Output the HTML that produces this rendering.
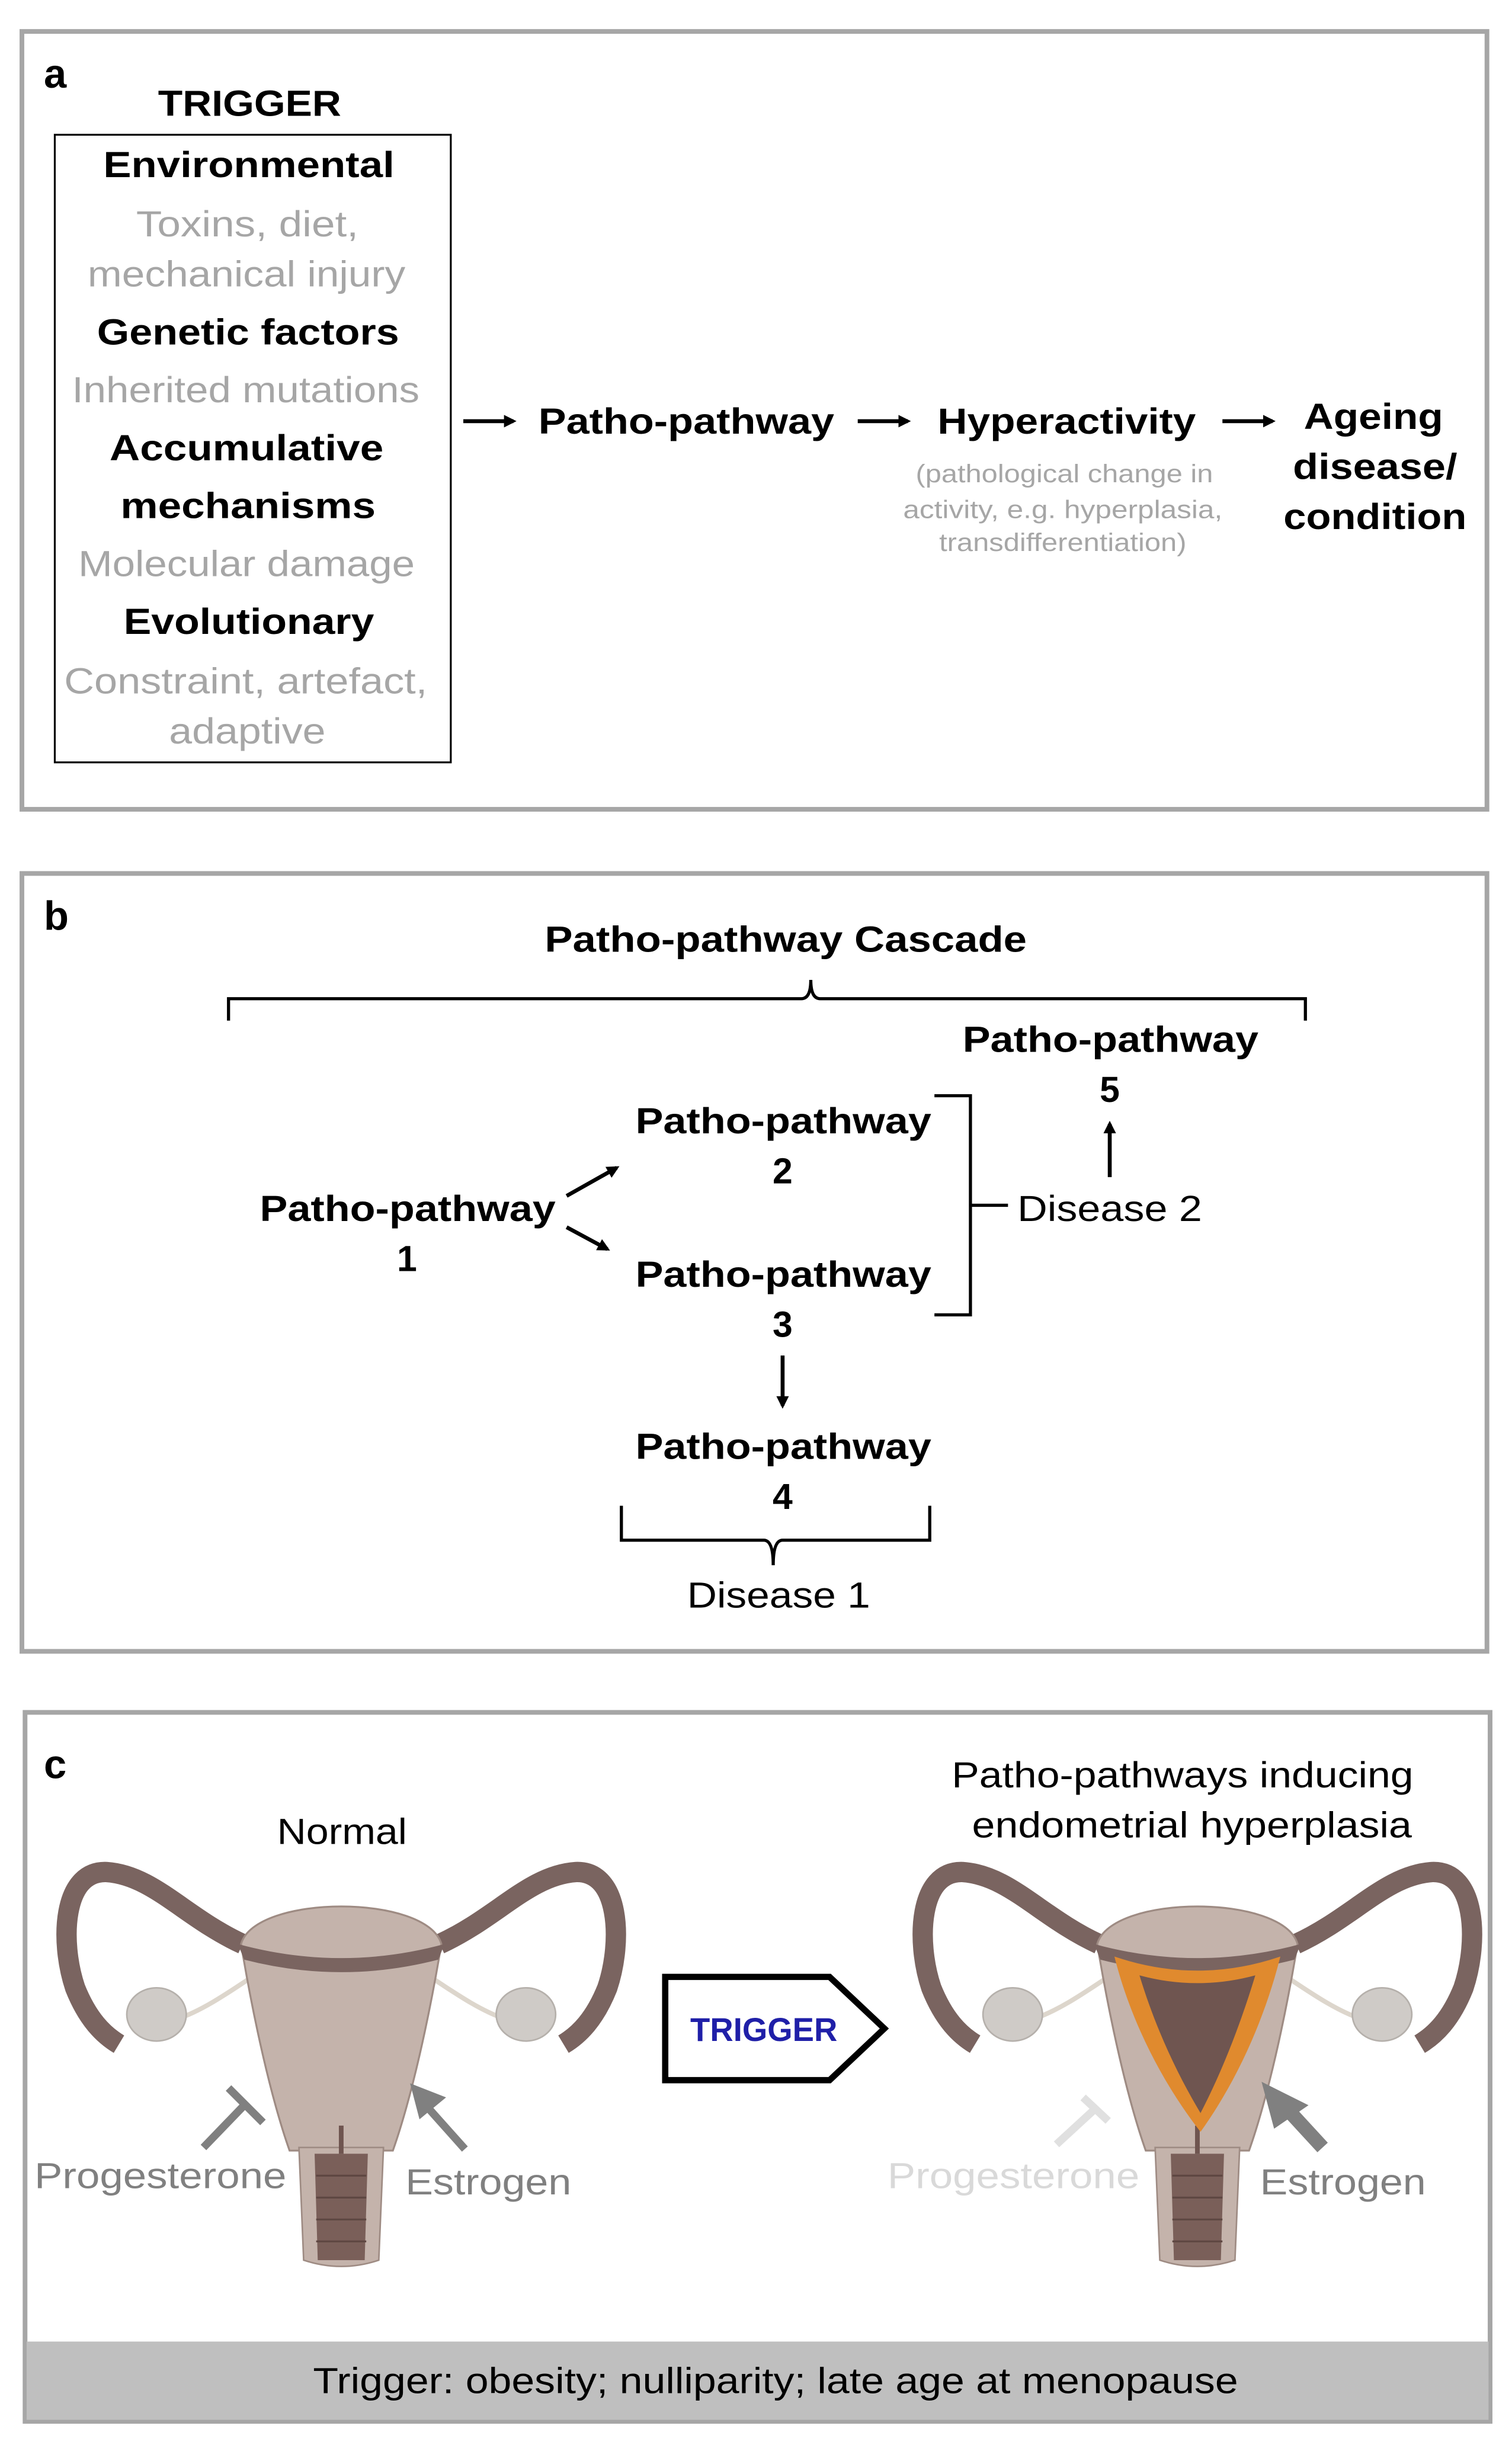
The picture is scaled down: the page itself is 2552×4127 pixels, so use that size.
<!DOCTYPE html>
<html><head><meta charset="utf-8"><style>
html,body{margin:0;padding:0;background:#fff;}
svg{display:block;}
text{font-family:"Liberation Sans",Arial,sans-serif;}
</style></head><body>
<svg width="2552" height="4127" viewBox="0 0 966 1562" xmlns="http://www.w3.org/2000/svg">
<defs>
<marker id="ah" markerWidth="8" markerHeight="8" refX="6" refY="4" orient="auto" markerUnits="userSpaceOnUse">
<path d="M0,0 L8,4 L0,8 Z" fill="#000"/></marker>
<g id="uterus">
 <path d="M-60,75 C-75,85 -90,95 -105,100 M60,75 C75,85 90,95 105,100" fill="none" stroke="#ddd6cc" stroke-width="3"/>
 <path d="M-63,52 C-100,35 -120,8 -150,6 C-178,5 -180,50 -170,80 C-162,100 -152,110 -142,116" fill="none" stroke="#7a6460" stroke-width="13"/>
 <path d="M63,52 C100,35 120,8 150,6 C178,5 180,50 170,80 C162,100 152,110 142,116" fill="none" stroke="#7a6460" stroke-width="13"/>
 <ellipse cx="-118" cy="97" rx="19" ry="17" fill="#cfcbc7" stroke="#b5b0ab"/>
 <ellipse cx="118" cy="97" rx="19" ry="17" fill="#cfcbc7" stroke="#b5b0ab"/>
 <path d="M-64,52 C-55,20 55,20 64,52 C56,100 45,150 33,184 L-33,184 C-45,150 -56,100 -64,52 Z" fill="#c4b3ab" stroke="#9e8b83" stroke-width="1.2"/>
 <path d="M-66,52 Q0,70 66,52 L62,62 Q0,78 -62,62 Z" fill="#7a6460"/>
 <path d="M-27,182 L27,182 L24,254 Q0,262 -24,254 Z" fill="#c4b3ab" stroke="#9e8b83" stroke-width="1"/>
 <path d="M-17,186 H17 L15,254 H-15 Z" fill="#7a5f59"/>
 <path d="M-16,200 H16 M-16,214 H16 M-16,228 H16 M-16,242 H16" stroke="#5e4742" stroke-width="1.2"/>
 <path d="M0,186 V168" stroke="#6f5550" stroke-width="3"/>
</g>
</defs>

<!-- Panel a -->
<rect x="14" y="20" width="936" height="497" fill="#fff" stroke="#a6a6a6" stroke-width="3"/>
<text x="28" y="56" font-size="26" font-weight="bold">a</text>
<g font-size="23">
<text x="101" y="74" font-weight="bold" textLength="117" lengthAdjust="spacingAndGlyphs">TRIGGER</text>
<rect x="35" y="86" width="253" height="401" fill="none" stroke="#000" stroke-width="1.2"/>
<text x="66" y="113" font-weight="bold" textLength="186" lengthAdjust="spacingAndGlyphs">Environmental</text>
<text x="87" y="151" fill="#a6a6a6" textLength="142" lengthAdjust="spacingAndGlyphs">Toxins, diet,</text>
<text x="56" y="183" fill="#a6a6a6" textLength="203" lengthAdjust="spacingAndGlyphs">mechanical injury</text>
<text x="62" y="220" font-weight="bold" textLength="193" lengthAdjust="spacingAndGlyphs">Genetic factors</text>
<text x="46" y="257" fill="#a6a6a6" textLength="222" lengthAdjust="spacingAndGlyphs">Inherited mutations</text>
<text x="70" y="294" font-weight="bold" textLength="175" lengthAdjust="spacingAndGlyphs">Accumulative</text>
<text x="77" y="331" font-weight="bold" textLength="163" lengthAdjust="spacingAndGlyphs">mechanisms</text>
<text x="50" y="368" fill="#a6a6a6" textLength="215" lengthAdjust="spacingAndGlyphs">Molecular damage</text>
<text x="79" y="405" font-weight="bold" textLength="160" lengthAdjust="spacingAndGlyphs">Evolutionary</text>
<text x="41" y="443" fill="#a6a6a6" textLength="232" lengthAdjust="spacingAndGlyphs">Constraint, artefact,</text>
<text x="108" y="475" fill="#a6a6a6" textLength="100" lengthAdjust="spacingAndGlyphs">adaptive</text>
<text x="344" y="277" font-weight="bold" textLength="189" lengthAdjust="spacingAndGlyphs">Patho-pathway</text>
<text x="599" y="277" font-weight="bold" textLength="165" lengthAdjust="spacingAndGlyphs">Hyperactivity</text>
<text x="833" y="274" font-weight="bold" textLength="89" lengthAdjust="spacingAndGlyphs">Ageing</text>
<text x="826" y="306" font-weight="bold" textLength="105" lengthAdjust="spacingAndGlyphs">disease/</text>
<text x="820" y="338" font-weight="bold" textLength="117" lengthAdjust="spacingAndGlyphs">condition</text>
</g>
<g font-size="16" fill="#a6a6a6">
<text x="585" y="308" textLength="190" lengthAdjust="spacingAndGlyphs">(pathological change in</text>
<text x="577" y="331" textLength="204" lengthAdjust="spacingAndGlyphs">activity, e.g. hyperplasia,</text>
<text x="600" y="352" textLength="158" lengthAdjust="spacingAndGlyphs">transdifferentiation)</text>
</g>
<g stroke="#000" stroke-width="2.5" marker-end="url(#ah)">
<line x1="296" y1="269" x2="328" y2="269"/>
<line x1="548" y1="269" x2="580" y2="269"/>
<line x1="781" y1="269" x2="813" y2="269"/>
</g>

<!-- Panel b -->
<rect x="14" y="558" width="936" height="497" fill="#fff" stroke="#a6a6a6" stroke-width="3"/>
<text x="28" y="594" font-size="26" font-weight="bold">b</text>
<g font-size="23" font-weight="bold">
<text x="348" y="608" textLength="308" lengthAdjust="spacingAndGlyphs">Patho-pathway Cascade</text>
<text x="615" y="672" textLength="189" lengthAdjust="spacingAndGlyphs">Patho-pathway</text>
<text x="709" y="704" text-anchor="middle">5</text>
<text x="406" y="724" textLength="189" lengthAdjust="spacingAndGlyphs">Patho-pathway</text>
<text x="500" y="756" text-anchor="middle">2</text>
<text x="166" y="780" textLength="189" lengthAdjust="spacingAndGlyphs">Patho-pathway</text>
<text x="260" y="812" text-anchor="middle">1</text>
<text x="406" y="822" textLength="189" lengthAdjust="spacingAndGlyphs">Patho-pathway</text>
<text x="500" y="854" text-anchor="middle">3</text>
<text x="406" y="932" textLength="189" lengthAdjust="spacingAndGlyphs">Patho-pathway</text>
<text x="500" y="964" text-anchor="middle">4</text>
</g>
<text x="650" y="780" font-size="23" textLength="118" lengthAdjust="spacingAndGlyphs">Disease 2</text>
<text x="439" y="1027" font-size="23" textLength="117" lengthAdjust="spacingAndGlyphs">Disease 1</text>
<g fill="none" stroke="#000" stroke-width="2">
<path d="M146,652 V638 H512 Q518,638 518,626 Q518,638 524,638 H834 V652"/>
<path d="M597,700 H620 V840 H597 M620,770 H644"/>
<path d="M397,962 V984 H488 Q494,984 494,1000 Q494,984 500,984 H594 V962"/>
</g>
<g stroke="#000" stroke-width="2.5" marker-end="url(#ah)">
<line x1="362" y1="764" x2="394" y2="746"/>
<line x1="362" y1="784" x2="388" y2="798"/>
<line x1="500" y1="866" x2="500" y2="898"/>
<line x1="709" y1="752" x2="709" y2="718"/>
</g>

<!-- Panel c -->
<rect x="16" y="1094" width="936" height="453" fill="#fff" stroke="#a6a6a6" stroke-width="3"/>
<rect x="17" y="1496" width="934" height="50" fill="#bfbfbf"/>
<text x="28" y="1136" font-size="26" font-weight="bold">c</text>
<use href="#uterus" x="218" y="1190"/>
<use href="#uterus" x="765" y="1190"/>
<path d="M712,1250 Q765,1268 818,1250 C808,1290 790,1330 767,1362 C742,1330 722,1290 712,1250 Z" fill="#e08a2e"/>
<path d="M728,1262 Q765,1272 802,1262 C792,1295 780,1325 767,1350 C752,1325 738,1295 728,1262 Z" fill="#6f5550"/>
<g font-size="23">
<text x="177" y="1178" textLength="83" lengthAdjust="spacingAndGlyphs">Normal</text>
<text x="608" y="1142" textLength="295" lengthAdjust="spacingAndGlyphs">Patho-pathways inducing</text>
<text x="621" y="1174" textLength="281" lengthAdjust="spacingAndGlyphs">endometrial hyperplasia</text>
<text x="200" y="1529" textLength="591" lengthAdjust="spacingAndGlyphs">Trigger:  obesity; nulliparity; late age at menopause</text>
<text x="22" y="1398" fill="#808080" textLength="161" lengthAdjust="spacingAndGlyphs">Progesterone</text>
<text x="259" y="1402" fill="#808080" textLength="106" lengthAdjust="spacingAndGlyphs">Estrogen</text>
<text x="567" y="1398" fill="#d9d9d9" textLength="161" lengthAdjust="spacingAndGlyphs">Progesterone</text>
<text x="805" y="1402" fill="#808080" textLength="106" lengthAdjust="spacingAndGlyphs">Estrogen</text>
</g>
<g stroke="#808080" stroke-width="5" fill="none">
<path d="M130,1372 L157,1344 M146,1334 L168,1356"/>
<path d="M297,1373 L272,1345"/>
<path d="M675,1370 L700,1347 M692,1340 L708,1355" stroke="#e0e0e0"/>
<path d="M845,1372 L822,1347" stroke-width="9"/>
</g>
<path d="M262,1331 L285,1340 L268,1354 Z" fill="#808080"/>
<path d="M806,1330 L836,1345 L814,1360 Z" fill="#808080"/>
<path d="M425,1263 H530 L565,1296 L530,1329 H425 Z" fill="#fff" stroke="#000" stroke-width="4"/>
<text x="441" y="1304" font-size="21" font-weight="bold" fill="#1f1fa8" textLength="94" lengthAdjust="spacingAndGlyphs">TRIGGER</text>
</svg>
</body></html>
